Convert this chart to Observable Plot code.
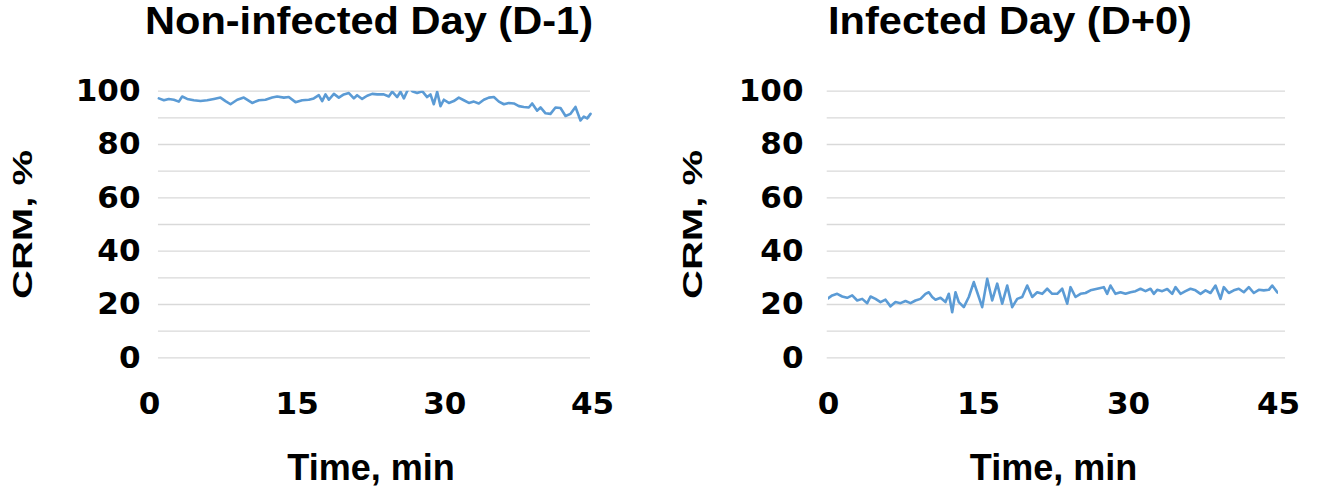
<!DOCTYPE html>
<html>
<head>
<meta charset="utf-8">
<script src="https://cdn.jsdelivr.net/npm/d3@7"></script>
<script src="https://cdn.jsdelivr.net/npm/@observablehq/plot@0.6"></script>
<style>
  html, body { margin: 0; padding: 0; background: #fff; }
  #page { position: relative; width: 1319px; height: 491px; overflow: hidden; }
  .title { position: absolute; top: 0; height: 60px; line-height: 58px; white-space: nowrap;
           font: bold 38px "Liberation Sans", Arial, sans-serif; color: #000;
           transform: translateX(-50%) scaleX(1.094); }
  .panel { position: absolute; top: 60px; }
  svg g[aria-label="y-axis tick label"], svg g[aria-label="x-axis tick label"] {
    font-family: "DejaVu Sans", sans-serif; font-size: 31px; font-weight: bold; fill: #000; }
  svg g[aria-label="x-axis label"] {
    font-family: "Liberation Sans", Arial, sans-serif; font-size: 36px; font-weight: bold; fill: #000; }
  svg g[aria-label="y-axis label"] {
    font-family: "Liberation Sans", Arial, sans-serif; font-size: 28px; font-weight: bold; fill: #000; }
</style>
</head>
<body>
<div id="page">
  <div class="title" style="left:369px">Non-infected Day (D-1)</div>
  <div class="title" style="left:1010px">Infected Day (D+0)</div>
  <div class="panel" id="p1" style="left:0px"></div>
  <div class="panel" id="p2" style="left:660px"></div>
</div>
<script>
// ---- Data ----
const titles = ["Non-infected Day (D-1)", "Infected Day (D+0)"];
const xTicks = [0, 15, 30, 45];
const yTicks = [0, 20, 40, 60, 80, 100];
const yGrid = [0, 10, 20, 30, 40, 50, 60, 70, 80, 90, 100];

// Non-infected day (D-1): time (min) and CRM (%)
const time1 = [0.95,1.46,1.96,2.47,2.98,3.32,3.83,4.50,5.18,5.86,6.54,7.21,7.72,8.23,8.91,9.58,10.43,11.11,11.78,12.46,12.97,13.65,14.15,14.83,15.51,16.18,16.69,17.20,17.54,17.88,18.22,18.73,19.23,19.74,20.25,20.76,21.09,21.60,22.11,22.62,23.13,23.80,24.31,24.65,25.16,25.50,25.84,26.17,26.44,26.68,27.19,27.70,28.20,28.54,28.88,29.22,29.56,29.90,30.41,30.91,31.42,31.93,32.44,32.95,33.45,33.96,34.47,34.98,35.49,36.00,36.50,37.01,37.52,38.02,38.53,38.87,39.38,39.72,40.23,40.73,41.24,41.75,42.26,42.77,43.27,43.78,44.12,44.46,44.80];
const crm1 = [97.3,96.6,97.1,96.8,96.1,98.0,97.1,96.6,96.3,96.6,97.1,97.6,96.3,95.1,96.8,97.6,95.6,96.6,96.8,97.6,98.0,97.6,97.8,95.9,96.6,96.8,97.3,98.5,96.3,98.8,96.8,99.0,97.6,98.8,99.3,97.3,98.5,97.1,98.3,99.0,98.8,98.8,98.0,99.8,97.8,99.8,97.3,100.0,101.5,100.0,99.3,100.0,97.8,98.8,95.1,99.8,94.4,96.8,95.6,96.3,97.6,96.6,95.6,96.1,95.4,96.8,97.6,97.8,96.1,95.1,95.6,95.4,94.4,94.1,93.9,95.4,92.7,93.9,91.7,91.5,93.9,93.7,90.7,91.5,94.1,89.0,90.5,89.8,91.5];

// Infected day (D+0): time (min) and CRM (%)
const time2 = [-0.13,0.37,0.87,1.37,1.87,2.37,2.87,3.37,3.87,4.20,4.70,5.20,5.70,6.20,6.70,7.20,7.70,8.20,8.70,9.20,9.70,10.03,10.37,10.70,11.20,11.70,12.03,12.37,12.70,13.03,13.53,14.03,14.53,14.87,15.37,15.87,16.37,16.87,17.37,17.87,18.37,18.87,19.37,19.87,20.37,20.87,21.37,21.87,22.37,22.87,23.37,23.87,24.20,24.70,25.20,25.70,26.20,26.87,27.53,27.87,28.20,28.70,29.20,29.70,30.20,30.70,31.20,31.70,32.20,32.53,32.87,33.37,33.87,34.37,34.70,35.20,35.70,36.20,36.70,37.20,37.70,38.20,38.70,39.20,39.53,40.03,40.53,41.03,41.53,42.03,42.53,43.03,43.53,44.03,44.37,44.87,45.20,45.70];
const crm2 = [22.1,23.4,24.0,23.0,22.5,23.4,21.5,22.1,20.5,23.0,22.1,20.9,21.8,19.3,20.9,20.5,21.3,20.5,21.5,22.1,24.0,24.6,22.8,21.8,22.5,20.9,24.0,17.1,24.6,20.9,19.0,22.8,28.4,24.6,19.0,29.6,21.5,27.8,20.3,27.1,19.0,22.1,22.8,27.1,22.8,24.6,24.0,25.9,24.0,24.0,25.9,20.3,26.5,22.8,24.0,24.3,25.3,25.9,26.5,24.0,27.1,24.0,24.6,24.0,24.6,25.0,25.9,25.0,25.9,24.0,25.5,25.0,25.8,24.0,26.5,24.0,25.0,25.9,25.3,24.0,25.3,24.3,27.1,22.1,26.5,24.3,25.3,25.9,24.6,26.5,24.3,25.5,25.3,25.5,27.1,24.6,24.0,24.3];

const lineColor = "#5B9BD5";
const gridColor = "#d9d9d9";

function panel({time, crm, width, marginLeft, marginRight, gridFrom, gridTo, yPad, yLabelOffset}) {
  const rows = time.map((t, i) => ({t, v: crm[i]}));
  const svg = Plot.plot({
    width, height: 431,
    marginLeft, marginRight, marginTop: 30.7, marginBottom: 133.7,
    x: {domain: [0, 45], ticks: xTicks, tickSize: 0, tickPadding: 34, label: "Time, min", labelAnchor: "center", labelOffset: 122, labelArrow: "none"},
    y: {domain: [0, 100], ticks: yTicks, tickSize: 0, tickPadding: yPad, label: "CRM, %", labelAnchor: "center", labelOffset: yLabelOffset, labelArrow: "none"},
    marks: [
      Plot.ruleY(yGrid, {x1: gridFrom, x2: gridTo, stroke: gridColor, strokeWidth: 1.3}),
      Plot.line(rows, {x: "t", y: "v", stroke: lineColor, strokeWidth: 2.6, clip: true})
    ]
  });
  d3.select(svg).selectAll('g[aria-label="y-axis label"] text')
    .attr("textLength", 149).attr("lengthAdjust", "spacingAndGlyphs");
  return svg;
}

document.getElementById("p1").appendChild(panel({
  time: time1, crm: crm1, width: 660, marginLeft: 149, marginRight: 68,
  gridFrom: 0.91, gridTo: 44.8, yPad: 9, yLabelOffset: 137
}));
document.getElementById("p2").appendChild(panel({
  time: time2, crm: crm2, width: 659, marginLeft: 168, marginRight: 41,
  gridFrom: -0.13, gridTo: 45.7, yPad: 25, yLabelOffset: 146
}));
</script>
</body>
</html>
